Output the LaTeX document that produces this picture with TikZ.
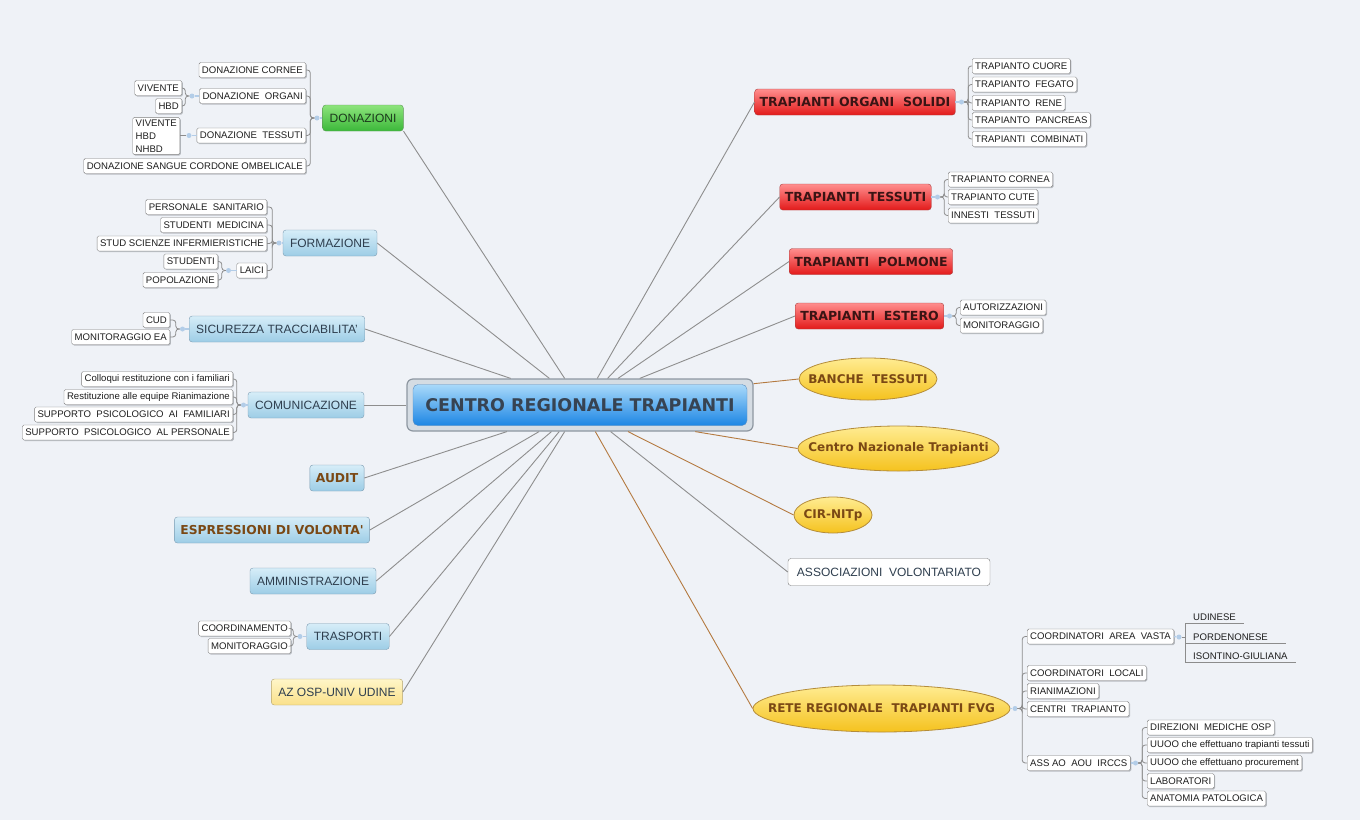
\documentclass[tikz,border=0pt]{standalone}
\usepackage{fontspec}
\setmainfont{Liberation Sans}
\newfontfamily\tahb{DejaVu Sans}
\usepackage{tikz}
\usetikzlibrary{shapes.geometric, shadows}
\usepackage{color}

\definecolor{bgc}{HTML}{EFF2F7}
\definecolor{hubfr}{HTML}{D5DCE3}
\definecolor{hubdr}{HTML}{8E97A1}
\definecolor{hubtop}{HTML}{A9D9FA}
\definecolor{hubbot}{HTML}{1C86E4}
\definecolor{hubin}{HTML}{5C8EC0}
\definecolor{hubtxt}{HTML}{374352}
\definecolor{toptop}{HTML}{D6EDF8}
\definecolor{topbot}{HTML}{9DCDE6}
\definecolor{topdr}{HTML}{7C9CB2}
\definecolor{toptxt}{HTML}{2E3E4E}
\definecolor{grtop}{HTML}{8DE47C}
\definecolor{grbot}{HTML}{3CB83A}
\definecolor{grdr}{HTML}{5F9A58}
\definecolor{grtxt}{HTML}{1C3A1C}
\definecolor{rdtop}{HTML}{FF8E8E}
\definecolor{rdbot}{HTML}{E31A1A}
\definecolor{rddr}{HTML}{A84040}
\definecolor{rdtxt}{HTML}{3A1414}
\definecolor{yltop}{HTML}{FFF6C8}
\definecolor{ylbot}{HTML}{FAE08A}
\definecolor{yldr}{HTML}{B4A470}
\definecolor{eltop}{HTML}{FFEC92}
\definecolor{elbot}{HTML}{F5C21E}
\definecolor{eldr}{HTML}{B48C3A}
\definecolor{brn}{HTML}{7A4814}
\definecolor{lfdr}{HTML}{7E7E7E}
\definecolor{lfsh}{HTML}{B8BCC2}
\definecolor{lftxt}{HTML}{1E1E1E}
\definecolor{knb}{HTML}{B3CDE8}
\definecolor{brc}{HTML}{8C8C8C}
\definecolor{lnk}{HTML}{8E8E8E}
\definecolor{lnko}{HTML}{B47A40}

\newcommand\leaffont{\fontsize{9.6}{11}\selectfont}
\newcommand\leafmfont{\fontsize{9.6}{12.8}\selectfont}
\newcommand\topfont{\fontsize{12}{14}\selectfont}
\newcommand\boldtopfont{\tahb\bfseries\fontsize{12.3}{14}\selectfont}
\newcommand\redfont{\tahb\bfseries\fontsize{12.5}{14}\selectfont}
\newcommand\elfont{\tahb\bfseries\fontsize{12}{14}\selectfont}
\newcommand\hubfont{\tahb\bfseries\fontsize{17.5}{20}\selectfont}

\tikzset{
	hubframe/.style = {rectangle, rounded corners=6pt, minimum width=346pt, minimum height=52pt, fill=hubfr, draw=hubdr, line width=1.2pt},
	hub/.style = {rectangle, rounded corners=5pt, minimum width=334pt, minimum height=41pt, top color=hubtop, bottom color=hubbot, draw=hubin, font=\hubfont, text=hubtxt},
	topic/.style = {rectangle, rounded corners=3pt, minimum height=26pt, inner xsep=7pt, inner ysep=0pt, draw=topdr, top color=toptop, bottom color=topbot, font=\topfont, text=toptxt},
	topicb/.style = {topic, font=\boldtopfont, text=brn, inner xsep=6pt},
	greentopic/.style = {topic, draw=grdr, top color=grtop, bottom color=grbot, text=grtxt},
	redtopic/.style = {topic, draw=rddr, top color=rdtop, bottom color=rdbot, font=\redfont, text=rdtxt, inner xsep=5pt},
	yelltopic/.style = {topic, draw=yldr, top color=yltop, bottom color=ylbot},
	whitetopic/.style = {rectangle, rounded corners=3pt, minimum height=27pt, inner xsep=9pt, draw=lfdr, fill=white, font=\topfont, text=toptxt},
	ellip/.style = {ellipse, inner sep=0pt, draw=eldr, line width=0.8pt, top color=eltop, bottom color=elbot, font=\elfont, text=brn},
	leaf/.style = {rectangle, draw=lfdr, fill=white, rounded corners=1.5pt, minimum height=15pt, inner xsep=3pt, inner ysep=0pt, font=\leaffont, text=lftxt,
		drop shadow={shadow xshift=1pt, shadow yshift=-1pt, fill=lfsh, opacity=1}},
	lleaf/.style = {leaf, anchor=east},
	rleaf/.style = {leaf, anchor=west},
	uline/.style = {anchor=south west, inner xsep=8pt, inner ysep=2pt, font=\leaffont, text=lftxt},
	knob/.style = {circle, fill=knb, inner sep=0pt, minimum size=5pt},
	junc/.style = {draw=knb, line width=1.5pt},
	forkln/.style = {draw=brc, line width=0.8pt, rounded corners=3pt},
	spoke/.style = {draw=lnk, line width=0.9pt},
	spokeor/.style = {draw=lnko, line width=0.9pt}
}

\begin{document}
\begin{tikzpicture}[x=1pt, y=-1pt]

	\fill[bgc] (0,0) rectangle (1360,820);
	\useasboundingbox (0,0) rectangle (1360,820);

	%%% CENTRO %%%

	\node[hubframe] (crt) at (580,405) {};
	\node[hub] (crtin) at (580,405) {CENTRO REGIONALE TRAPIANTI};


	%%% LATO SINISTRO %%%

	\node[greentopic] (don) at (363,118) {DONAZIONI};
	\node[knob] (kdon) at (317,118) {};
	\node[lleaf] (dcor) at (306,70) {DONAZIONE CORNEE};
	\node[lleaf] (dorg) at (306,96) {DONAZIONE~ ORGANI};
	\node[lleaf] (dtes) at (306,135.5) {DONAZIONE~ TESSUTI};
	\node[lleaf] (dsan) at (306,166) {DONAZIONE SANGUE CORDONE OMBELICALE};
	\draw[junc] (don.west) -- (kdon);
	\draw[forkln] (kdon.west) -- ++(-4,0) |- (dcor.east);
	\draw[forkln] (kdon.west) -- ++(-4,0) |- (dorg.east);
	\draw[forkln] (kdon.west) -- ++(-4,0) |- (dtes.east);
	\draw[forkln] (kdon.west) -- ++(-4,0) |- (dsan.east);

	\node[knob] (korg) at (192,96) {};
	\node[lleaf] (viv) at (182,88) {VIVENTE};
	\node[lleaf] (hbd) at (182,106) {HBD};
	\draw[junc] (dorg.west) -- (korg);
	\draw[forkln] (korg.west) -- ++(-4,0) |- (viv.east);
	\draw[forkln] (korg.west) -- ++(-4,0) |- (hbd.east);

	\node[knob] (ktes) at (189,135.5) {};
	\node[lleaf, align=left, inner ysep=2.5pt, font=\leafmfont] (vhn) at (180,136) {VIVENTE\\HBD\\NHBD};
	\draw[junc] (dtes.west) -- (ktes);
	\draw[forkln] (ktes.west) -- (ktes.west -| vhn.east);

	\node[topic] (frm) at (330,243) {FORMAZIONE};
	\node[knob] (kfrm) at (279,243) {};
	\node[lleaf] (psan) at (267,207) {PERSONALE~ SANITARIO};
	\node[lleaf] (smed) at (267,225) {STUDENTI~ MEDICINA};
	\node[lleaf] (ssci) at (267,243.5) {STUD SCIENZE INFERMIERISTICHE};
	\node[lleaf] (laic) at (267,270.5) {LAICI};
	\draw[junc] (frm.west) -- (kfrm);
	\draw[forkln] (kfrm.west) -- ++(-4,0) |- (psan.east);
	\draw[forkln] (kfrm.west) -- ++(-4,0) |- (smed.east);
	\draw[forkln] (kfrm.west) -- ++(-4,0) |- (ssci.east);
	\draw[forkln] (kfrm.west) -- ++(-4,0) |- (laic.east);

	\node[knob] (klai) at (228.5,270.5) {};
	\node[lleaf] (stu) at (218,261.5) {STUDENTI};
	\node[lleaf] (pop) at (218,280) {POPOLAZIONE};
	\draw[junc] (laic.west) -- (klai);
	\draw[forkln] (klai.west) -- ++(-4,0) |- (stu.east);
	\draw[forkln] (klai.west) -- ++(-4,0) |- (pop.east);

	\node[topic] (sic) at (277,329) {SICUREZZA TRACCIABILITA'};
	\node[knob] (ksic) at (182.5,329) {};
	\node[lleaf] (cud) at (170,320) {CUD};
	\node[lleaf] (mea) at (170,337) {MONITORAGGIO EA};
	\draw[junc] (sic.west) -- (ksic);
	\draw[forkln] (ksic.west) -- ++(-4,0) |- (cud.east);
	\draw[forkln] (ksic.west) -- ++(-4,0) |- (mea.east);

	\node[topic] (com) at (306,405) {COMUNICAZIONE};
	\node[knob] (kcom) at (243.5,405) {};
	\node[lleaf] (col) at (233,379) {Colloqui restituzione con i familiari};
	\node[lleaf] (res) at (233,397) {Restituzione alle equipe Rianimazione};
	\node[lleaf] (spf) at (233,414.5) {SUPPORTO~ PSICOLOGICO~ AI~ FAMILIARI};
	\node[lleaf] (spp) at (233,432.5) {SUPPORTO~ PSICOLOGICO~ AL PERSONALE};
	\draw[junc] (com.west) -- (kcom);
	\draw[forkln] (kcom.west) -- ++(-4,0) |- (col.east);
	\draw[forkln] (kcom.west) -- ++(-4,0) |- (res.east);
	\draw[forkln] (kcom.west) -- ++(-4,0) |- (spf.east);
	\draw[forkln] (kcom.west) -- ++(-4,0) |- (spp.east);

	\node[topicb] (aud) at (337,478) {AUDIT};
	\node[topicb] (esp) at (272,530) {ESPRESSIONI DI VOLONTA'};
	\node[topic] (amm) at (313,581) {AMMINISTRAZIONE};

	\node[topic] (tra) at (348,636.5) {TRASPORTI};
	\node[knob] (ktra) at (300,636.5) {};
	\node[lleaf] (coo) at (291,628.5) {COORDINAMENTO};
	\node[lleaf] (mon) at (291,646) {MONITORAGGIO};
	\draw[junc] (tra.west) -- (ktra);
	\draw[forkln] (ktra.west) -- ++(-4,0) |- (coo.east);
	\draw[forkln] (ktra.west) -- ++(-4,0) |- (mon.east);

	\node[yelltopic] (azo) at (337,692) {AZ OSP-UNIV UDINE};


	%%% LATO DESTRO %%%

	\node[redtopic] (tos) at (855,102) {TRAPIANTI ORGANI~ SOLIDI};
	\node[knob] (ktos) at (961.5,102) {};
	\node[rleaf] (cuo) at (972,66) {TRAPIANTO CUORE};
	\node[rleaf] (feg) at (972,84.5) {TRAPIANTO~ FEGATO};
	\node[rleaf] (ren) at (972,103) {TRAPIANTO~ RENE};
	\node[rleaf] (pan) at (972,120) {TRAPIANTO~ PANCREAS};
	\node[rleaf] (cmb) at (972,139) {TRAPIANTI~ COMBINATI};
	\draw[junc] (tos.east) -- (ktos);
	\draw[forkln] (ktos.east) -- ++(4,0) |- (cuo.west);
	\draw[forkln] (ktos.east) -- ++(4,0) |- (feg.west);
	\draw[forkln] (ktos.east) -- ++(4,0) |- (ren.west);
	\draw[forkln] (ktos.east) -- ++(4,0) |- (pan.west);
	\draw[forkln] (ktos.east) -- ++(4,0) |- (cmb.west);

	\node[redtopic] (tts) at (855.5,197) {TRAPIANTI~ TESSUTI};
	\node[knob] (ktts) at (937.5,197) {};
	\node[rleaf] (cor) at (948,179.5) {TRAPIANTO CORNEA};
	\node[rleaf] (cut) at (948,197) {TRAPIANTO CUTE};
	\node[rleaf] (inn) at (948,215.5) {INNESTI~ TESSUTI};
	\draw[junc] (tts.east) -- (ktts);
	\draw[forkln] (ktts.east) -- ++(4,0) |- (cor.west);
	\draw[forkln] (ktts.east) -- ++(4,0) |- (cut.west);
	\draw[forkln] (ktts.east) -- ++(4,0) |- (inn.west);

	\node[redtopic] (tpo) at (871,261.5) {TRAPIANTI~ POLMONE};

	\node[redtopic] (tes) at (869.5,316) {TRAPIANTI~ ESTERO};
	\node[knob] (ktes2) at (949.5,316) {};
	\node[rleaf] (aut) at (960,307.5) {AUTORIZZAZIONI};
	\node[rleaf] (mon2) at (960,325.5) {MONITORAGGIO};
	\draw[junc] (tes.east) -- (ktes2);
	\draw[forkln] (ktes2.east) -- ++(4,0) |- (aut.west);
	\draw[forkln] (ktes2.east) -- ++(4,0) |- (mon2.west);

	\node[ellip, minimum width=138pt, minimum height=42pt] (ban) at (868,379) {\makebox[0pt]{BANCHE~ TESSUTI}};
	\node[ellip, minimum width=201pt, minimum height=45pt] (cnt) at (898.5,448.5) {\makebox[0pt]{Centro Nazionale Trapianti}};
	\node[ellip, minimum width=78pt, minimum height=36pt] (cir) at (833,515) {\makebox[0pt]{CIR-NITp}};
	\node[whitetopic] (ass) at (889,572) {ASSOCIAZIONI~ VOLONTARIATO};

	\node[ellip, minimum width=257pt, minimum height=47pt] (ret) at (881.5,708.5) {\makebox[0pt]{RETE REGIONALE~ TRAPIANTI FVG}};
	\node[knob] (kret) at (1015,708.5) {};
	\node[rleaf] (cav) at (1027,636.5) {COORDINATORI~ AREA~ VASTA};
	\node[rleaf] (clo) at (1027,673) {COORDINATORI~ LOCALI};
	\node[rleaf] (ria) at (1027,691) {RIANIMAZIONI};
	\node[rleaf] (ctr) at (1027,709) {CENTRI~ TRAPIANTO};
	\node[rleaf] (aaa) at (1027,763) {ASS AO~ AOU~ IRCCS};
	\draw[junc] (ret.east) -- (kret);
	\draw[forkln] (kret.east) -- ++(4.5,0) |- (cav.west);
	\draw[forkln] (kret.east) -- ++(4.5,0) |- (clo.west);
	\draw[forkln] (kret.east) -- ++(4.5,0) |- (ria.west);
	\draw[forkln] (kret.east) -- ++(4.5,0) |- (ctr.west);
	\draw[forkln] (kret.east) -- ++(4.5,0) |- (aaa.west);

	\node[knob] (kcav) at (1179,637) {};
	\node[uline] (udi) at (1185,623) {UDINESE};
	\node[uline] (por) at (1185,643) {PORDENONESE};
	\node[uline] (iso) at (1185,662) {ISONTINO-GIULIANA};
	\draw[junc] (cav.east) -- (kcav);
	\draw[forkln] (kcav.east) -- (udi.south west |- kcav.east);
	\draw[forkln] (udi.south west) -- (iso.south west);
	\draw[forkln] (udi.south west) -- (udi.south east);
	\draw[forkln] (por.south west) -- ([xshift=10pt]por.south east);
	\draw[forkln] (iso.south west) -- (iso.south east);

	\node[knob] (kaaa) at (1135.5,763) {};
	\node[rleaf] (dir) at (1147,727.5) {DIREZIONI~ MEDICHE OSP};
	\node[rleaf] (uut) at (1147,745) {UUOO che effettuano trapianti tessuti};
	\node[rleaf] (uup) at (1147,763) {UUOO che effettuano procurement};
	\node[rleaf] (lab) at (1147,781) {LABORATORI};
	\node[rleaf] (ana) at (1147,798.5) {ANATOMIA PATOLOGICA};
	\draw[junc] (aaa.east) -- (kaaa);
	\draw[forkln] (kaaa.east) -- ++(4,0) |- (dir.west);
	\draw[forkln] (kaaa.east) -- ++(4,0) |- (uut.west);
	\draw[forkln] (kaaa.east) -- ++(4,0) |- (uup.west);
	\draw[forkln] (kaaa.east) -- ++(4,0) |- (lab.west);
	\draw[forkln] (kaaa.east) -- ++(4,0) |- (ana.west);


	%%% RAGGI DAL CENTRO %%%

	\draw[spoke] (crt.120) -- (don.south east);
	\draw[spoke] (crt.139) -- (frm.east);
	\draw[spoke] (crt.159) -- (sic.east);
	\draw[spoke] (crt.west) -- (com.east);
	\draw[spoke] (crt.200) -- (aud.east);
	\draw[spoke] (crt.213) -- (esp.east);
	\draw[spoke] (crt.223) -- (amm.east);
	\draw[spoke] (crt.232) -- (tra.east);
	\draw[spoke] (crt.240) -- (azo.east);

	\draw[spoke] (crt.57) -- (tos.west);
	\draw[spoke] (crt.44) -- (tts.west);
	\draw[spoke] (crt.35) -- (tpo.west);
	\draw[spoke] (crt.24) -- (tes.west);
	\draw[spokeor] (crt.7) -- (ban.west);
	\draw[spokeor] (crt.347) -- (cnt.west);
	\draw[spokeor] (crt.331) -- (cir.west);
	\draw[spoke] (crt.319) -- (ass.west);
	\draw[spokeor] (crt.300) -- (ret.west);

\end{tikzpicture}
\end{document}
